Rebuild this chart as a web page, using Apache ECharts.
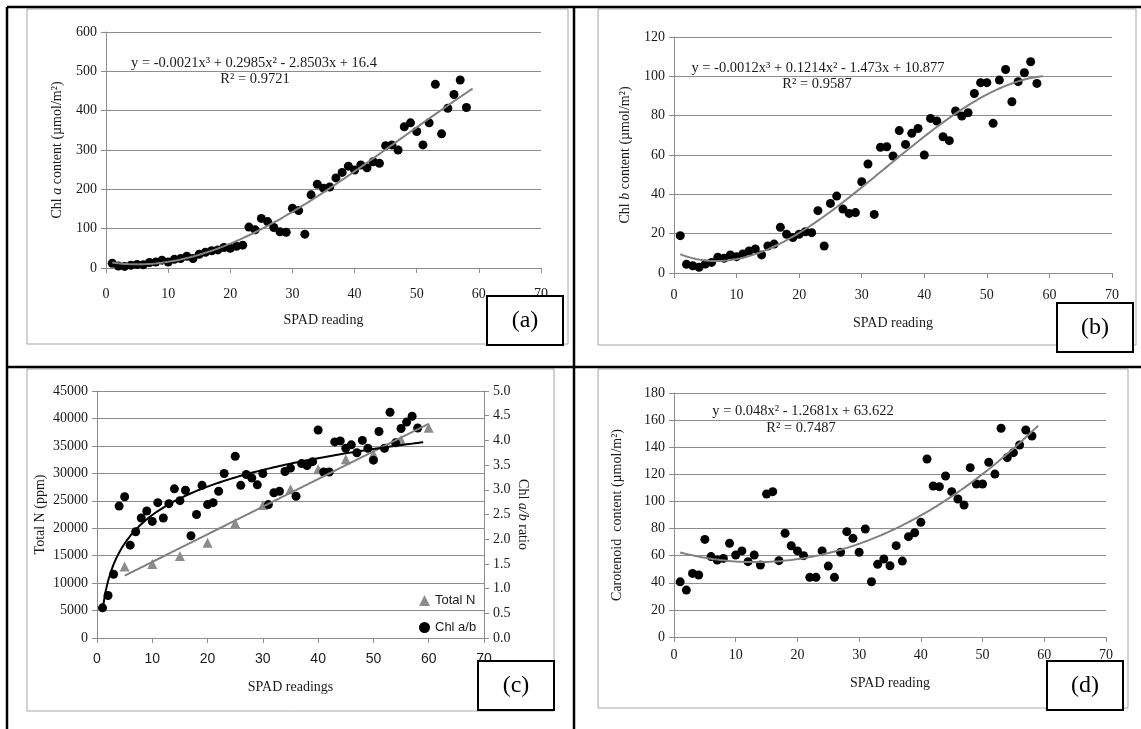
<!DOCTYPE html>
<html>
<head>
<meta charset="utf-8">
<script src="https://cdn.jsdelivr.net/npm/echarts@6/dist/echarts.min.js"></script>
<style>
  html, body { margin: 0; padding: 0; background: #fff; }
  #chart { width: 1141px; height: 729px; }
</style>
</head>
<body>
<div id="chart"></div>
<script>
// SPAD readings of the leaf samples
const spad = [1,2,3,4,5,6,7,8,9,10,11,12,13,14,15,16,17,18,19,20,21,22,23,24,25,26,27,28,29,30,
  31,32,33,34,35,36,37,38,39,40,41,42,43,44,45,46,47,48,49,50,51,52,53,54,55,56,57,58];

// (a) Chl a content (umol/m2)
const chlA = [12,5,4,7,9,8,14,15,20,15,22,24,30,24,35,40,44,46,52,50,55,58,104,97,126,118,103,92,91,152,
  146,86,186,213,203,206,229,243,259,249,262,255,270,266,311,313,300,359,369,347,313,369,467,341,406,441,478,408];

// (b) Chl b content (umol/m2)
const chlB = [19,4.4,3.7,2.9,4.6,5.4,8,7.5,9.2,8.3,9.7,11.2,12.2,9.2,13.7,14.7,23.2,19.7,18,19.7,21,20.5,31.7,13.7,35.4,39.1,32.5,30.3,30.7,46.4,
  55.4,29.8,63.9,64.2,59.5,72.4,65.4,71,73.5,60,78.6,77.3,69.3,67.3,82.4,79.8,81.5,91.3,96.8,96.8,76.1,98.1,103.5,87.1,97.3,101.8,107.4,96.4];

// (d) Carotenoid content (umol/m2)
const carot = [40.7,34.6,46.9,45.7,72,59.3,56.8,58,69.1,60.5,63.5,55.6,60.5,53.1,105.5,107.2,56.3,76.5,67.3,63.5,60,44,44,63.5,52.3,44,62.5,77.7,72.8,62.5,
  79.7,40.8,53.6,57.5,52.6,67.4,56,74,76.9,84.6,131.3,111.4,110.9,118.8,107.2,101.8,97.4,124.9,112.9,112.9,128.9,120.2,154,132.3,136,141.6,152.7,148.3];

// (c) Chl a/b ratio
const ratioX = [1,2,3,4,5,6,7,8,9,10,11,12,13,14,15,16,17,18,19,20,21,22,23,25,26,27,28,29,30,
  31,32,33,34,35,36,37,38,39,40,41,42,43,44,45,46,47,48,49,50,51,52,53,54,55,56,57,58];
const ratioY = [0.61,0.86,1.29,2.67,2.86,1.88,2.15,2.43,2.57,2.36,2.74,2.43,2.72,3.02,2.78,2.99,2.07,2.5,3.09,2.7,2.74,2.97,3.33,3.68,3.09,3.31,3.24,3.1,3.33,
  2.7,2.94,2.97,3.37,3.44,2.87,3.53,3.49,3.57,4.21,3.36,3.36,3.97,3.99,3.84,3.91,3.75,4.0,3.84,3.6,4.18,3.84,4.57,3.95,4.24,4.37,4.49,4.25];

// (c) Total N (ppm)
const totalNX = [5,10,15,20,25,30,35,40,45,50,55,60];
const totalNY = [13030,13500,14950,17350,20900,24240,27100,30740,32560,33500,36080,38320];

// printed trendline equations (highest power first)
const fitA = [-0.0021, 0.2985, -2.8503, 16.4];
const fitB = [-0.0012, 0.1214, -1.473, 10.877];
const fitD = [0.048, -1.2681, 63.622];

const serif = "Liberation Serif";
const sans = "Liberation Sans";
const ink = "#1a1a1a";
const gridGrey = "#8c8c8c";

function poly(c, x) {
  return c.reduce((acc, k) => acc * x + k, 0);
}
function curve(fn, from, to) {
  const pts = [];
  for (let x = from; x <= to + 1e-9; x += 0.5) pts.push([x, fn(x)]);
  return pts;
}
function linFit(xs, ys) {
  const n = xs.length;
  let sx = 0, sy = 0, sxx = 0, sxy = 0;
  xs.forEach((x, i) => { sx += x; sy += ys[i]; sxx += x * x; sxy += x * ys[i]; });
  const b = (n * sxy - sx * sy) / (n * sxx - sx * sx);
  return [(sy - b * sx) / n, b];
}
const pairs = (xs, ys) => xs.map((x, i) => [x, ys[i]]);

const nFit = linFit(totalNX, totalNY);
const rFit = linFit(ratioX.map(Math.log), ratioY);

const chart = echarts.init(document.getElementById("chart"));

function xAxis(gridIndex, margin, nameGap, labelFont) {
  return {
    gridIndex, type: "value", min: 0, max: 70, interval: 10,
    name: gridIndex === 2 ? "SPAD readings" : "SPAD reading",
    nameLocation: "middle", nameGap,
    nameTextStyle: { fontFamily: serif, fontSize: 14, color: ink },
    axisLine: { lineStyle: { color: gridGrey } },
    axisTick: { show: true, length: 5, lineStyle: { color: gridGrey } },
    axisLabel: { fontFamily: labelFont, fontSize: 14, color: ink, margin },
    splitLine: { show: false }
  };
}
function yAxis(gridIndex, max, interval, name, nameGap, opts) {
  return Object.assign({
    gridIndex, type: "value", min: 0, max, interval,
    name, nameLocation: "middle", nameGap, nameRotate: 90,
    nameTextStyle: {
      fontFamily: serif, fontSize: 14, color: ink,
      rich: {
        t: { fontFamily: serif, fontSize: 14, color: ink },
        i: { fontFamily: serif, fontSize: 14, color: ink, fontStyle: "italic" }
      }
    },
    axisLine: { show: true, lineStyle: { color: gridGrey } },
    axisTick: { show: true, length: 5, lineStyle: { color: gridGrey } },
    axisLabel: { fontFamily: serif, fontSize: 14, color: ink, margin: 9, formatter: v => String(v) },
    splitLine: { show: true, lineStyle: { color: gridGrey, width: 1 } }
  }, opts || {});
}

const dot = { color: "#000", opacity: 1 };
const fitLine = (xi, yi, data, color) => ({
  type: "line", xAxisIndex: xi, yAxisIndex: yi, data, showSymbol: false, symbol: "none",
  smooth: false, lineStyle: { color, width: 2 }, z: 3, silent: true
});

const frame = (x, y, w, h) => ({
  type: "rect", shape: { x, y, width: w, height: h }, z: -5,
  style: { fill: "none", stroke: "#a6a6a6", lineWidth: 1 }
});
const tagBox = (x, y, label) => ([
  { type: "rect", shape: { x, y, width: 76, height: 49 }, z: 100,
    style: { fill: "#fff", stroke: "#000", lineWidth: 2 } },
  { type: "text", x: x + 38, y: y + 25, z: 101,
    style: { text: label, fontFamily: serif, fontSize: 24, fill: "#000", align: "center", verticalAlign: "middle" } }
]);
const note = (cx, cy, text) => ({
  type: "text", x: cx, y: cy, z: 50,
  style: { text, fontFamily: serif, fontSize: 14.5, fill: ink, align: "center", verticalAlign: "middle" }
});
const rule = (x1, y1, x2, y2) => ({
  type: "line", shape: { x1, y1, x2, y2 }, z: 90, style: { stroke: "#000", lineWidth: 2.5 }
});

chart.setOption({
  animation: false,
  backgroundColor: "#fff",
  grid: [
    { left: 106, top: 32, width: 435, height: 236 },
    { left: 674, top: 37, width: 438, height: 236 },
    { left: 97, top: 391, width: 387, height: 247 },
    { left: 674, top: 393, width: 432, height: 244 }
  ],
  xAxis: [
    xAxis(0, 19, 45, serif),
    xAxis(1, 15, 43, serif),
    xAxis(2, 14, 42, sans),
    xAxis(3, 11, 39, serif)
  ],
  yAxis: [
    yAxis(0, 600, 100, "{t|Chl }{i|a}{t| content (µmol/m²)}", 42),
    yAxis(1, 120, 20, "{t|Chl }{i|b}{t| content (µmol/m²)}", 42),
    yAxis(2, 45000, 5000, "Total N (ppm)", 50),
    yAxis(2, 5, 0.5, "{t|Chl }{i|a/b}{t| ratio}", 32, {
      position: "right", nameRotate: -90,
      splitLine: { show: false },
      axisLabel: { fontFamily: serif, fontSize: 14, color: ink, margin: 9, formatter: v => v.toFixed(1) }
    }),
    yAxis(3, 180, 20, "{t|Carotenoid  content (µmol/m²)}", 50)
  ],
  legend: {
    orient: "vertical", left: 414, top: 589, itemGap: 14,
    itemWidth: 11, itemHeight: 11,
    textStyle: { fontFamily: sans, fontSize: 13, color: ink },
    data: [
      { name: "Total N", icon: "triangle" },
      { name: "Chl a/b", icon: "circle" }
    ]
  },
  series: [
    { type: "scatter", xAxisIndex: 0, yAxisIndex: 0, data: pairs(spad, chlA), symbolSize: 9, itemStyle: dot },
    fitLine(0, 0, curve(x => poly(fitA, x), 1, 59), "#808080"),
    { type: "scatter", xAxisIndex: 1, yAxisIndex: 1, data: pairs(spad, chlB), symbolSize: 9, itemStyle: dot },
    fitLine(1, 1, curve(x => poly(fitB, x), 1, 59), "#808080"),
    { name: "Total N", type: "scatter", xAxisIndex: 2, yAxisIndex: 2, data: pairs(totalNX, totalNY),
      symbol: "triangle", symbolSize: 10, itemStyle: { color: "#8c8c8c", opacity: 1 } },
    fitLine(2, 2, curve(x => nFit[0] + nFit[1] * x, 5, 60), "#808080"),
    { name: "Chl a/b", type: "scatter", xAxisIndex: 2, yAxisIndex: 3, data: pairs(ratioX, ratioY),
      symbolSize: 9, itemStyle: dot },
    fitLine(2, 3, curve(x => rFit[0] + rFit[1] * Math.log(x), 1, 59), "#000"),
    { type: "scatter", xAxisIndex: 3, yAxisIndex: 4, data: pairs(spad, carot), symbolSize: 9, itemStyle: dot },
    fitLine(3, 4, curve(x => poly(fitD, x), 1, 59), "#808080")
  ],
  graphic: [
    frame(27, 9, 541, 335),
    frame(598, 9, 538, 336),
    frame(27, 369, 527, 342),
    frame(598, 369, 530, 339),
    rule(7, 7, 1141, 7),
    rule(7, 7, 7, 729),
    rule(574, 7, 574, 729),
    rule(7, 367, 1141, 367),
    note(254, 63, "y = -0.0021x³ + 0.2985x² - 2.8503x + 16.4"),
    note(255, 79, "R² = 0.9721"),
    note(818, 68, "y = -0.0012x³ + 0.1214x² - 1.473x + 10.877"),
    note(817, 84, "R² = 0.9587"),
    note(803, 411, "y = 0.048x² - 1.2681x + 63.622"),
    note(801, 428, "R² = 0.7487"),
    ...tagBox(487, 296, "(a)"),
    ...tagBox(1057, 303, "(b)"),
    ...tagBox(478, 661, "(c)"),
    ...tagBox(1047, 661, "(d)")
  ]
});
</script>
</body>
</html>
